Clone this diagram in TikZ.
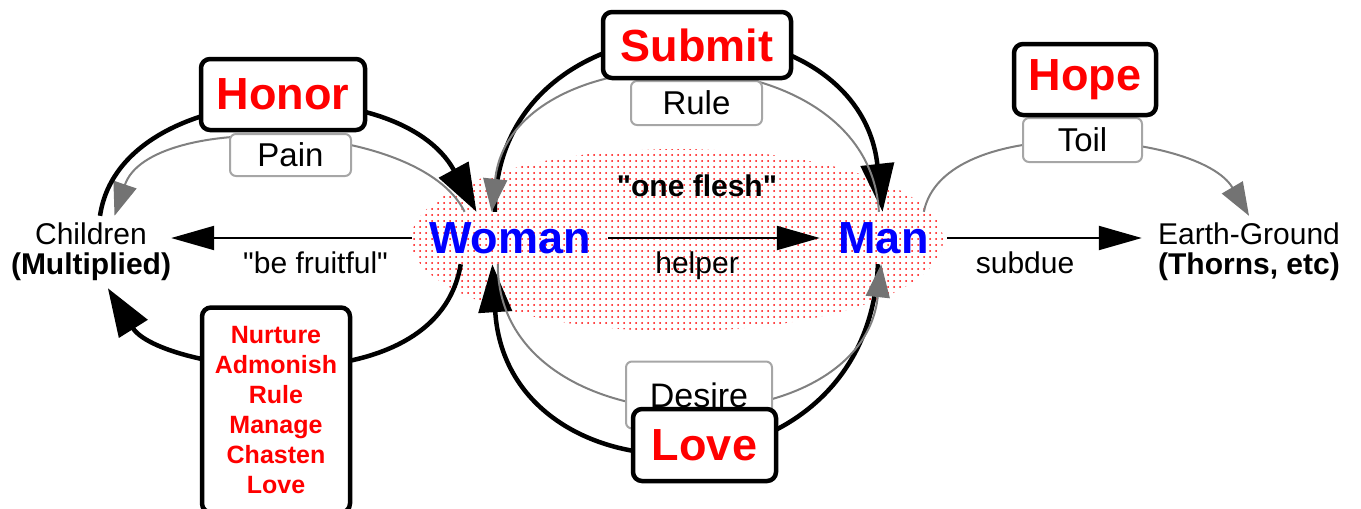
\documentclass[tikz,border=0pt]{standalone}
\usepackage{fontspec}
\setmainfont{Liberation Sans}
\usetikzlibrary{arrows.meta, patterns.meta}

\newcommand{\txtsize}[2]{\fontsize{#1}{#2}\selectfont}

\begin{document}
\begin{tikzpicture}[x=1pt, y=-1pt,
  flow/.style={line width=2pt, -{Triangle[length=43pt,width=24pt]}},
  bigflow/.style={line width=4.5pt, -{Triangle[length=48pt,width=33pt]}},
  grayflow/.style={line width=2pt, draw=gray, -{Triangle[length=33pt,width=24pt,fill=black!55,color=black!55]}},
  who/.style={text=blue, font=\txtsize{45}{45}\bfseries, inner sep=0pt, minimum height=52pt},
  place/.style={align=center, font=\txtsize{30}{30}, inner sep=0pt, minimum height=72pt},
  word/.style={font=\txtsize{30}{30}, inner sep=2pt},
  virtue/.style={draw, line width=4.5pt, rounded corners=9pt, fill=white, text=red, font=\txtsize{45}{45}\bfseries, inner sep=0pt},
  curse/.style={draw=gray!70, line width=2pt, rounded corners=6pt, fill=white, font=\txtsize{33}{33}, inner sep=0pt}]
\useasboundingbox (0,0) rectangle (1361,509);

% one flesh
\fill[pattern={Dots[distance=6pt,radius=1pt]}, pattern color=red] (677,240) ellipse [x radius=266pt, y radius=91pt];

\node[place] (children) at (91,252) {Children\\\textbf{(Multiplied)}};
\node[who, minimum width=196pt] (woman) at (510,238) {Woman};
\node[who, minimum width=127pt] (man) at (883.5,238) {Man};
\node[place, minimum width=214pt] (earth) at (1249,252) {Earth-Ground\\\textbf{(Thorns, etc)}};
\node[word, font=\txtsize{30}{30}\bfseries] (flesh) at (697,186) {\textquotedbl one flesh\textquotedbl};

\draw[flow] (woman) -- node[word, below=11pt, pos=0.4]{\textquotedbl be fruitful\textquotedbl} (children.east |- woman);
\draw[flow] (woman) -- node[word, below=11pt, pos=0.42]{helper} (man);
\draw[flow] (man) -- node[word, below=11pt, pos=0.4]{subdue} (earth.west |- man);

% curved relations
\draw[grayflow] (woman.150) .. controls +(-45,-92) and +(35,-104) .. (children.57);
\draw[bigflow] (children.76) .. controls +(20,-137) and +(-77,-142) .. (woman.142);
\draw[bigflow] (woman.120) .. controls +(0,-226) and +(-25,-226) .. (man.92);
\draw[grayflow] (man.100) .. controls +(-10,-183) and +(20,-183) .. (woman.125);
\draw[bigflow] (man.258) .. controls +(-10,245) and +(15,245) .. (woman.236);
\draw[grayflow] (woman.245) .. controls +(0,188) and +(-20,188) .. (man.265);
\draw[bigflow] (woman.208) .. controls +(-24,146) and +(52,83) .. (children.295);
\draw[grayflow] (man.33) .. controls +(20,-100) and +(-50,-85) .. (earth.north);

% labels on the arcs
\node[curse, minimum width=121pt, minimum height=42pt] (pain) at (290.5,155) {Pain\hspace{14pt}};
\node[virtue, minimum width=164pt, minimum height=71pt] (honor) at (283,94.5) {Honor};
\node[curse, minimum width=131pt, minimum height=44pt] (rule) at (696.5,103) {Rule};
\node[virtue, minimum width=188pt, minimum height=66pt] (submit) at (697,45) {Submit};
\node[curse, minimum width=119pt, minimum height=44pt] (toil) at (1082.5,140) {Toil};
\node[virtue, minimum width=142pt, minimum height=71pt] (hope) at (1085,79.5) {Hope};
\node[curse, minimum width=146pt, minimum height=67pt, font=\txtsize{34}{34}] (desire) at (699,395) {Desire};
\node[virtue, minimum width=143pt, minimum height=72pt] (love) at (704.5,445) {Love};
\node[virtue, minimum width=148pt, minimum height=205pt, align=center, font=\txtsize{25}{30}\bfseries] (nurture) at (276,410)
  {Nurture\\Admonish\\Rule\\Manage\\Chasten\\Love};
\end{tikzpicture}
\end{document}
